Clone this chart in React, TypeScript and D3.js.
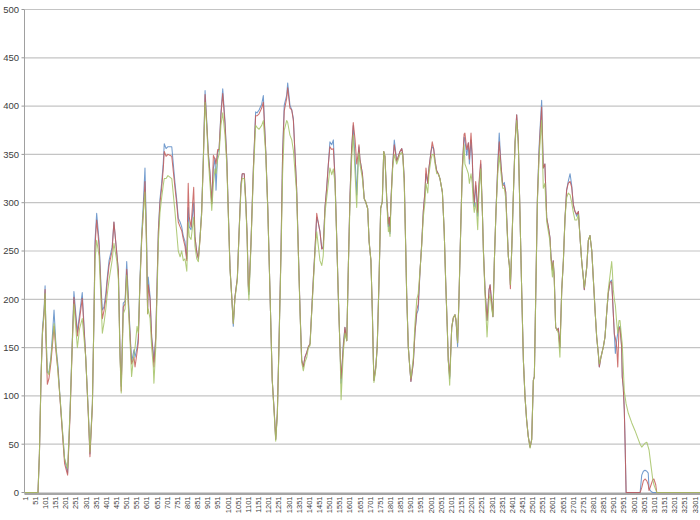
import React from "react";
import * as d3 from "d3";

// category index of each sampled point
const idx = [
  1, 65, 72, 80, 87, 95, 100, 104, 111, 119,
  129, 144, 154, 164, 173, 183, 196, 211, 223, 235,
  242, 259, 270, 283, 300, 313, 321, 333, 341, 346,
  354, 366, 375, 382, 390, 399, 406, 415, 430, 439,
  453, 461, 469, 475, 485, 494, 502, 513, 522, 526,
  538, 543, 553, 559, 567, 576, 584, 592, 600, 605,
  608, 617, 625, 633, 636, 645, 658, 666, 674, 682,
  687, 696, 705, 724, 740, 748, 756, 765, 773, 781,
  789, 798, 805, 810, 819, 832, 838, 847, 855, 863,
  871, 879, 888, 896, 904, 912, 921, 929, 937, 942,
  950, 957, 966, 975, 986, 995, 1002, 1011, 1019, 1027,
  1035, 1047, 1055, 1065, 1071, 1081, 1088, 1095, 1101, 1104,
  1114, 1126, 1137, 1144, 1154, 1167, 1175, 1187, 1197, 1208,
  1219, 1229, 1236, 1244, 1252, 1262, 1270, 1278, 1290, 1295,
  1306, 1315, 1323, 1339, 1347, 1356, 1364, 1372, 1380, 1389,
  1397, 1405, 1413, 1421, 1430, 1438, 1446, 1454, 1463, 1470,
  1479, 1487, 1495, 1503, 1512, 1520, 1528, 1536, 1544, 1553,
  1558, 1569, 1577, 1586, 1594, 1602, 1610, 1618, 1627, 1635,
  1643, 1646, 1651, 1663, 1672, 1679, 1689, 1696, 1705, 1712,
  1717, 1720, 1729, 1736, 1745, 1753, 1761, 1768, 1774, 1783,
  1791, 1796, 1799, 1804, 1812, 1820, 1832, 1840, 1848, 1857,
  1862, 1869, 1876, 1881, 1889, 1898, 1902, 1914, 1922, 1931,
  1938, 1947, 1955, 1963, 1971, 1976, 1985, 1991, 2001, 2007,
  2014, 2021, 2029, 2037, 2045, 2057, 2066, 2073, 2081, 2086,
  2093, 2103, 2111, 2119, 2124, 2132, 2139, 2149, 2155, 2164,
  2168, 2177, 2185, 2190, 2198, 2204, 2209, 2214, 2221, 2226,
  2231, 2237, 2246, 2254, 2259, 2267, 2277, 2287, 2292, 2300,
  2306, 2313, 2321, 2330, 2337, 2346, 2354, 2362, 2369, 2374,
  2382, 2387, 2392, 2399, 2406, 2415, 2423, 2431, 2439, 2448,
  2456, 2464, 2472, 2480, 2489, 2497, 2505, 2510, 2517, 2525,
  2533, 2539, 2546, 2554, 2562, 2571, 2579, 2587, 2592, 2599,
  2603, 2608, 2615, 2622, 2628, 2636, 2645, 2653, 2661, 2669,
  2677, 2686, 2694, 2702, 2710, 2719, 2727, 2735, 2743, 2751,
  2756, 2768, 2776, 2784, 2793, 2800, 2809, 2817, 2825, 2830,
  2838, 2850, 2858, 2866, 2874, 2883, 2891, 2894, 2899, 2904,
  2909, 2916, 2921, 2927, 2932, 2940, 2943, 2948, 2953, 2957,
  2962, 2973, 2990, 3006, 3022, 3031, 3039, 3047, 3055, 3064,
  3071, 3075, 3085, 3093, 3099, 3108, 3113, 3326,
];

const blue = [
  0, 0, 40, 120, 170, 190, 214, 165, 124, 125,
  140, 189, 150, 130, 100, 70, 35, 20, 85, 165,
  208, 166, 185, 207, 140, 82, 40, 92, 186, 261,
  289, 260, 215, 189, 192, 206, 222, 240, 254, 280,
  248, 229, 144, 110, 196, 198, 239, 190, 151, 135,
  148, 140, 150, 160, 220, 268, 300, 336, 262, 189,
  223, 203, 161, 145, 135, 161, 272, 304, 320, 341,
  361, 356, 358, 358, 320, 304, 284, 280, 275, 265,
  260, 242, 295, 275, 272, 300, 265, 249, 242, 265,
  291, 344, 416, 385, 352, 332, 299, 336, 346, 313,
  352, 355, 393, 418, 385, 346, 294, 232, 204, 172,
  202, 222, 267, 320, 330, 330, 304, 267, 213, 205,
  257, 336, 394, 393, 396, 402, 411, 353, 294, 206,
  116, 82, 55, 82, 153, 250, 353, 401, 411, 424,
  401, 396, 387, 315, 254, 187, 137, 130, 140, 145,
  151, 154, 187, 220, 254, 285, 279, 270, 252, 255,
  296, 315, 339, 363, 360, 365, 325, 267, 206, 147,
  113, 154, 171, 157, 236, 308, 356, 380, 345, 308,
  350, 358, 345, 330, 304, 301, 294, 260, 240, 187,
  137, 116, 130, 151, 220, 294, 301, 353, 348, 304,
  275, 285, 268, 304, 339, 365, 343, 348, 353, 356,
  350, 325, 257, 206, 151, 125, 115, 135, 166, 185,
  189, 230, 257, 291, 311, 330, 320, 336, 353, 358,
  356, 343, 333, 330, 325, 311, 270, 220, 171, 137,
  118, 171, 181, 184, 178, 151, 204, 287, 336, 368,
  365, 349, 362, 340, 365, 345, 313, 296, 318, 305,
  286, 315, 340, 291, 251, 210, 178, 210, 215, 196,
  182, 240, 291, 341, 372, 338, 318, 321, 311, 284,
  244, 235, 215, 254, 304, 363, 391, 363, 291, 206,
  137, 99, 75, 58, 47, 55, 116, 120, 206, 304,
  356, 380, 406, 336, 340, 284, 275, 264, 244, 230,
  240, 223, 171, 168, 170, 150, 210, 240, 284, 313,
  322, 330, 318, 298, 291, 286, 291, 264, 240, 223,
  210, 233, 261, 266, 250, 223, 189, 161, 144, 130,
  140, 151, 161, 185, 206, 218, 220, 206, 185, 164,
  144, 158, 165, 171, 172, 151, 120, 109, 86, 51,
  0, 0, 0, 0, 0, 0, 18, 22, 23, 22,
  20, 4, 1, 0, 0, 0, 0, 0,
];

const red = [
  0, 0, 40, 118, 165, 185, 210, 160, 112, 118,
  135, 172, 145, 125, 98, 68, 30, 18, 80, 160,
  202, 162, 180, 201, 140, 80, 37, 90, 186, 255,
  282, 255, 210, 180, 188, 200, 218, 235, 250, 280,
  248, 229, 144, 105, 192, 195, 231, 185, 148, 133,
  140, 130, 145, 155, 215, 262, 290, 322, 255, 185,
  215, 200, 160, 140, 130, 160, 270, 300, 315, 335,
  353, 348, 350, 348, 315, 300, 280, 275, 271, 262,
  255, 240, 320, 285, 275, 316, 265, 249, 242, 262,
  288, 340, 412, 382, 350, 330, 299, 349, 345, 340,
  355, 355, 390, 413, 382, 344, 294, 232, 204, 175,
  202, 222, 267, 318, 330, 330, 304, 267, 215, 208,
  257, 336, 390, 390, 392, 398, 404, 353, 294, 206,
  116, 82, 55, 82, 153, 250, 350, 395, 408, 419,
  398, 396, 385, 315, 254, 187, 137, 130, 140, 145,
  151, 154, 187, 220, 254, 289, 279, 270, 252, 253,
  296, 315, 339, 358, 355, 356, 325, 267, 206, 147,
  118, 150, 171, 157, 236, 308, 356, 383, 365, 340,
  352, 360, 345, 330, 304, 301, 294, 260, 240, 187,
  137, 116, 130, 151, 220, 294, 301, 353, 348, 304,
  278, 285, 270, 304, 339, 360, 343, 348, 353, 356,
  350, 325, 257, 206, 151, 125, 115, 135, 166, 189,
  195, 230, 257, 291, 311, 336, 320, 336, 353, 363,
  356, 343, 333, 330, 325, 311, 270, 220, 171, 137,
  120, 171, 181, 184, 178, 155, 204, 287, 336, 371,
  372, 355, 362, 345, 372, 350, 313, 300, 322, 310,
  290, 320, 344, 291, 251, 210, 178, 210, 215, 196,
  182, 240, 291, 338, 363, 338, 318, 318, 311, 284,
  244, 235, 211, 254, 304, 363, 391, 363, 291, 206,
  137, 99, 75, 58, 47, 55, 116, 120, 206, 304,
  350, 375, 399, 336, 340, 284, 275, 264, 244, 230,
  240, 223, 171, 168, 170, 150, 210, 240, 284, 313,
  320, 322, 316, 298, 291, 288, 291, 264, 240, 223,
  210, 233, 261, 266, 250, 223, 189, 161, 144, 130,
  140, 151, 161, 185, 206, 218, 218, 206, 185, 164,
  160, 150, 130, 171, 170, 151, 120, 109, 86, 51,
  0, 0, 0, 0, 0, 0, 5, 12, 14, 12,
  8, 2, 8, 13, 14, 8, 0, 0,
];

const green = [
  0, 0, 40, 120, 165, 185, 206, 170, 125, 122,
  140, 175, 150, 122, 100, 72, 35, 25, 85, 160,
  195, 150, 170, 180, 140, 82, 42, 92, 186, 240,
  261, 245, 200, 165, 175, 190, 205, 220, 240, 258,
  240, 220, 140, 103, 185, 190, 225, 180, 140, 120,
  145, 150, 172, 165, 215, 265, 290, 311, 250, 185,
  190, 180, 150, 130, 113, 150, 260, 290, 305, 318,
  325, 325, 328, 325, 290, 270, 250, 244, 250, 240,
  242, 229, 280, 265, 262, 285, 255, 242, 239, 262,
  288, 340, 404, 380, 345, 320, 292, 320, 335, 330,
  345, 350, 380, 393, 370, 340, 290, 230, 204, 175,
  200, 220, 265, 315, 325, 325, 300, 265, 210, 199,
  255, 330, 380, 378, 376, 380, 385, 350, 292, 206,
  116, 80, 53, 80, 150, 245, 330, 375, 385, 383,
  370, 365, 354, 310, 250, 185, 135, 126, 135, 140,
  150, 152, 185, 215, 250, 270, 255, 240, 235, 245,
  290, 305, 320, 336, 329, 335, 320, 265, 206, 147,
  96, 145, 165, 157, 236, 300, 345, 370, 330, 295,
  345, 352, 340, 325, 304, 301, 294, 260, 240, 187,
  137, 114, 128, 151, 220, 294, 301, 353, 348, 300,
  270, 275, 265, 300, 335, 350, 340, 345, 350, 352,
  348, 320, 257, 206, 151, 125, 118, 140, 175, 200,
  206, 230, 255, 285, 300, 320, 310, 330, 345, 350,
  350, 340, 330, 330, 325, 311, 270, 220, 171, 137,
  111, 171, 181, 184, 180, 155, 204, 285, 330, 360,
  340, 335, 330, 320, 330, 320, 300, 290, 300, 290,
  272, 310, 335, 290, 250, 205, 161, 200, 205, 190,
  182, 240, 291, 330, 349, 330, 315, 315, 305, 280,
  244, 235, 215, 254, 304, 360, 385, 360, 291, 206,
  137, 99, 75, 58, 46, 55, 116, 120, 206, 300,
  345, 365, 385, 315, 320, 280, 270, 260, 240, 223,
  238, 220, 171, 168, 165, 140, 210, 240, 284, 305,
  310, 308, 300, 290, 282, 282, 288, 264, 240, 223,
  212, 233, 261, 266, 250, 223, 189, 161, 144, 133,
  140, 151, 161, 185, 210, 225, 239, 230, 210, 200,
  194, 175, 165, 178, 178, 160, 154, 130, 105, 99,
  92, 82, 72, 64, 55, 50, 47, 49, 51, 52,
  47, 44, 27, 14, 8, 3, 0, 0,
];

const yTicks = [0, 50, 100, 150, 200, 250, 300, 350, 400, 450, 500];
const xTickLabels = [
  1, 51, 101, 151, 201, 251, 301, 351, 401, 451, 501, 551, 601, 651, 701, 751,
  801, 851, 901, 951, 1001, 1051, 1101, 1151, 1201, 1251, 1301, 1351, 1401,
  1451, 1501, 1551, 1601, 1651, 1701, 1751, 1801, 1851, 1901, 1951, 2001,
  2051, 2101, 2151, 2201, 2251, 2301, 2351, 2401, 2451, 2501, 2551, 2601,
  2651, 2701, 2751, 2801, 2851, 2901, 2951, 3001, 3051, 3101, 3151, 3201,
  3251, 3301,
];

const series = [
  { name: "blue", values: blue, color: "#5b8bc6" },
  { name: "red", values: red, color: "#c65a57" },
  { name: "green", values: green, color: "#a3c264" },
];

export default function App() {
  const W = 700;
  const H = 520;
  const left = 24.5;
  const right = 700;
  const top = 9.5;
  const bottom = 492.5;

  const x = d3.scaleLinear().domain([1, 3326]).range([left + 0.5, right]);
  const y = d3.scaleLinear().domain([0, 500]).range([bottom, top]);

  const line = (vals: number[]) =>
    d3
      .line<number>()
      .x((_, i) => x(idx[i]))
      .y((v) => y(v))(vals) || "";

  return (
    <svg
      width={W}
      height={H}
      style={{ position: "absolute", left: 0, top: 0, background: "#fff" }}
      fontFamily="'Liberation Sans', Arial, sans-serif"
    >
      {yTicks.map((t) => (
        <g key={t}>
          {t > 0 && (
            <line x1={left} x2={right} y1={y(t)} y2={y(t)} stroke="#c4c4c4" strokeWidth={1.2} />
          )}
          <line x1={left - 3} x2={left} y1={y(t)} y2={y(t)} stroke="#999" strokeWidth={1} />
          <text
            x={19}
            y={y(t)}
            dy="0.35em"
            textAnchor="end"
            fontSize={9.5}
            fill="#404040"
          >
            {t}
          </text>
        </g>
      ))}
      <line x1={left} x2={left} y1={top} y2={bottom + 1} stroke="#a0a0a0" strokeWidth={1} />
      <line x1={left} x2={right} y1={bottom + 1.2} y2={bottom + 1.2} stroke="#a6a6a6" strokeWidth={2.6} />
      {series.map((s) => (
        <path
          key={s.name}
          d={line(s.values)}
          fill="none"
          stroke={s.color}
          strokeWidth={1.05}
          strokeOpacity={0.85}
          strokeLinejoin="round"
        />
      ))}
      {xTickLabels.map((t) => (
        <text
          key={t}
          transform={`translate(${x(t)},${bottom + 4}) rotate(-90)`}
          dy="0.35em"
          textAnchor="end"
          fontSize={7.5}
          fill="#404040"
        >
          {t}
        </text>
      ))}
    </svg>
  );
}
